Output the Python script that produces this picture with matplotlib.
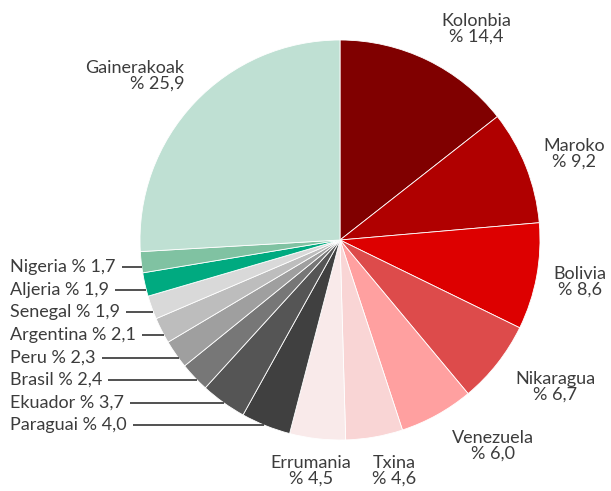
import numpy as np
import matplotlib.pyplot as plt

# ---------- data ----------
countries = ['Kolonbia', 'Maroko', 'Bolivia', 'Nikaragua', 'Venezuela', 'Txina',
             'Errumania', 'Paraguai', 'Ekuador', 'Brasil', 'Peru', 'Argentina',
             'Senegal', 'Aljeria', 'Nigeria', 'Gainerakoak']
shares = [14.4, 9.2, 8.6, 6.7, 6.0, 4.6, 4.5, 4.0, 3.7, 2.4, 2.3, 2.1, 1.9, 1.9, 1.7, 25.9]
colors = ['#800000', '#b00000', '#dd0000', '#dd4b4b', '#ffa0a0', '#f9d5d5',
          '#f9eaea', '#404040', '#555555', '#777777', '#9f9f9f', '#bdbdbd',
          '#d9d9d9', '#00aa80', '#80c2a2', '#bfe0d3']

# ---------- layout (pixels, y measured from top) ----------
W, H = 611, 491
cx, cy, r = 340, 240, 200
txt_col = '#3c3c3c'
fs = 13

# labels next to the pie: (x, y, ha)
outer_pos = {
    'Kolonbia': (476, 29, 'center'),
    'Maroko': (574, 154, 'center'),
    'Bolivia': (580, 282, 'center'),
    'Nikaragua': (555, 387, 'center'),
    'Venezuela': (493, 446, 'center'),
    'Txina': (394, 471, 'center'),
    'Errumania': (311, 471, 'center'),
    'Gainerakoak': (184, 76, 'right'),
}
# small slices on the left with leader lines: y of each row
left_rows = {'Nigeria': 267, 'Aljeria': 290, 'Senegal': 312, 'Argentina': 335,
             'Peru': 358, 'Brasil': 380, 'Ekuador': 403, 'Paraguai': 425}

plt.rcParams['font.family'] = ['Lato', 'DejaVu Sans']

fig = plt.figure(figsize=(W / 100, H / 100), dpi=100)
ax = fig.add_axes([0, 0, 1, 1])
ax.axis('off')

ax.pie(shares, colors=colors, startangle=90, counterclock=False,
       center=(cx, H - cy), radius=r,
       wedgeprops=dict(edgecolor='white', linewidth=0.6))
ax.set_xlim(0, W)
ax.set_ylim(0, H)
ax.set_aspect('equal')


def fmt(v):
    return ('% ' + f'{v:.1f}').replace('.', ',')


for name, val in zip(countries, shares):
    if name in outer_pos:
        x, y, ha = outer_pos[name]
        ax.text(x, H - y, name + '\n' + fmt(val), ha=ha, va='center',
                fontsize=fs, color=txt_col, linespacing=1.0,
                multialignment=ha)

fig.canvas.draw()
renderer = fig.canvas.get_renderer()
inv = ax.transData.inverted()
for name, val in zip(countries, shares):
    if name in left_rows:
        y = left_rows[name]
        t = ax.text(10, H - y, name + ' ' + fmt(val), ha='left', va='center',
                    fontsize=fs, color=txt_col)
        bb = t.get_window_extent(renderer)
        x0 = inv.transform((bb.x1, bb.y0))[0] + 6
        x1 = cx - np.sqrt(r ** 2 - (y - cy) ** 2)
        ax.plot([x0, x1], [H - y, H - y], color='#333333', linewidth=1.2,
                solid_capstyle='butt')

fig.savefig('out.png', dpi=100)
